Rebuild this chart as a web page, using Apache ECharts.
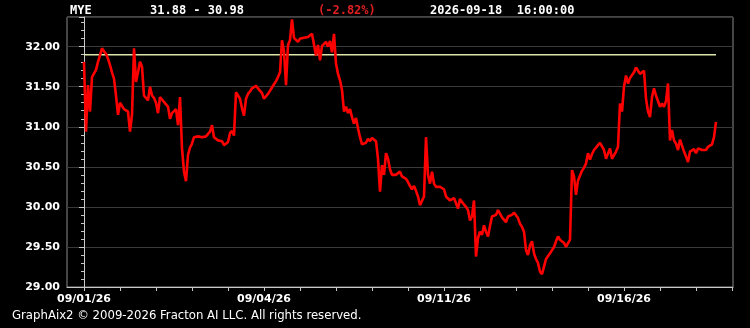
<!DOCTYPE html>
<html><head><meta charset="utf-8">
<script src="https://cdn.jsdelivr.net/npm/echarts@6/dist/echarts.min.js"></script>
<style>html,body{margin:0;padding:0;background:#000;}#c{width:750px;height:328px;}</style>
</head><body><div id="c"></div>
<script>
const symbolText = 'MYE';
const rangeText = '31.88 - 30.98';
const changeText = '(-2.82%)';
const stampText = '2026-09-18  16:00:00';
const footerText = 'GraphAix2 \u00A9 2009-2026 Fracton AI LLC. All rights reserved.';
const refLevel = 31.9;
const dateLabels = ['09/01/26', '09/04/26', '09/11/26', '09/16/26'];
const dateLabelIdx = [0, 90, 180, 270];
const yMin = 29, yMax = 32.37, yStep = 0.5;
const prices = [
31.81,30.94,31.52,31.19,31.62,31.64,31.71,31.81,31.89,31.98,
31.94,31.91,31.85,31.77,31.68,31.60,31.39,31.15,31.30,31.28,
31.22,31.23,31.19,30.94,31.15,31.98,31.56,31.68,31.81,31.75,
31.39,31.37,31.33,31.50,31.39,31.36,31.30,31.17,31.37,31.34,
31.34,31.28,31.25,31.10,31.17,31.19,31.22,31.02,31.37,30.73,
30.44,30.32,30.65,30.74,30.79,30.87,30.86,30.88,30.90,30.87,
30.87,30.88,30.90,30.94,31.02,30.87,30.87,30.83,30.85,30.82,
30.77,30.79,30.81,30.92,30.95,30.89,31.43,31.39,31.35,
31.23,31.14,31.35,31.41,31.44,31.48,31.49,31.51,31.48,31.49,
31.42,31.35,31.36,31.41,31.40,31.49,31.53,31.57,31.62,31.68,
32.08,31.94,31.52,32.02,32.08,32.34,32.11,32.12,32.06,32.10,
32.10,32.11,32.09,32.12,32.12,32.16,32.18,31.89,32.02,31.83,
32.01,32.02,32.06,32.00,32.07,31.93,32.16,31.79,31.66,31.58,
31.46,31.19,31.25,31.17,31.22,31.12,31.04,31.11,30.98,30.87,
30.78,30.76,30.80,30.85,30.82,30.86,30.85,30.82,30.60,30.19,
30.52,30.40,30.67,30.60,30.47,30.40,30.40,30.40,30.38,30.44,
30.38,30.37,30.35,30.31,30.26,30.22,30.26,30.20,30.13,30.02,
30.00,30.13,30.87,30.40,30.29,30.44,30.29,30.25,30.26,30.25,
30.24,30.22,30.13,30.15,30.08,30.09,30.11,30.09,29.98,30.10,
30.06,30.03,30.00,29.96,29.83,29.88,30.08,29.38,29.61,29.69,
29.65,29.77,29.69,29.63,29.76,29.88,29.89,29.90,29.96,29.94,
29.87,29.87,29.81,29.88,29.86,29.90,29.93,29.92,29.86,29.79,
29.75,29.69,29.46,29.40,29.52,29.57,29.42,29.35,29.30,29.19,
29.16,29.17,29.35,29.37,29.42,29.46,29.50,29.57,29.63,29.59,
29.61,29.55,29.50,29.48,29.59,
30.46,30.38,30.15,30.33,30.33,30.45,30.49,30.54,30.67,30.59,
30.66,30.71,30.74,30.77,30.80,30.82,30.71,30.60,30.58,30.73,
30.60,30.58,30.69,30.75,31.29,31.19,31.50,31.64,31.54,31.61,
31.60,31.68,31.74,31.73,31.66,31.64,31.70,31.35,31.19,31.12,
31.37,31.48,31.39,31.39,31.25,31.29,31.25,31.32,31.54,30.83,
30.96,30.83,30.79,30.71,30.84,30.85,30.69,30.63,30.56,30.69,
30.70,30.72,30.67,30.73,30.71,30.71,30.72,30.71,30.75,30.74,
30.78,30.87,31.06
];

const tickVals = [];
for (let v = 0; v <= 324; v += 18) tickVals.push(v);

const chart = echarts.init(document.getElementById('c'), null, {renderer: 'canvas'});
const axisCol = '#c8c8c8';
const labelFont = {color: '#ffffff', fontWeight: 'bold', fontSize: 11, fontFamily: 'DejaVu Sans'};
const headFont = 'bold 12px "DejaVu Sans Mono"';

chart.setOption({
  backgroundColor: '#000000',
  animation: false,
  grid: {left: 67, right: 17, top: 17, bottom: 41, show: true, borderColor: '#8a8a8a', borderWidth: 1, backgroundColor: '#000000'},
  xAxis: {
    type: 'value', min: -8.5, max: 324.5,
    axisLine: {show: true, onZero: false, lineStyle: {color: axisCol, width: 1}},
    axisTick: {show: true, customValues: tickVals, length: 4, lineStyle: {color: axisCol}},
    axisLabel: Object.assign({
      customValues: dateLabelIdx,
      formatter: function (v) { const k = dateLabelIdx.indexOf(Math.round(v)); return k >= 0 ? dateLabels[k] : ''; },
      margin: 7
    }, labelFont),
    splitLine: {show: false}
  },
  yAxis: {
    type: 'value', min: yMin, max: yMax, interval: yStep,
    axisLine: {show: true, lineStyle: {color: axisCol, width: 1}},
    axisTick: {show: true, length: 5, lineStyle: {color: axisCol}},
    minorTick: {show: true, splitNumber: 5, length: 3, lineStyle: {color: axisCol}},
    axisLabel: Object.assign({showMaxLabel: false, formatter: function (v) { return v.toFixed(2); }, margin: 7}, labelFont),
    splitLine: {show: true, lineStyle: {color: '#3a3a3a', width: 1}}
  },
  series: [
    {type: 'line', data: [[0, refLevel], [prices.length - 1, refLevel]], showSymbol: false, silent: true,
     lineStyle: {color: '#dde6a6', width: 1.5}, z: 2},
    {type: 'line', data: prices.map(function (p, i) { return [i, p]; }), showSymbol: false,
     lineStyle: {color: '#ff0000', width: 2.6}, z: 3}
  ],
  graphic: [
    {type: 'text', left: 70, top: 5, style: {text: symbolText, fill: '#ffffff', font: headFont}},
    {type: 'text', left: 150, top: 5, style: {text: rangeText, fill: '#ffffff', font: headFont}},
    {type: 'text', left: 318, top: 5, style: {text: changeText, fill: '#e02020', font: headFont}},
    {type: 'text', left: 430, top: 5, style: {text: stampText, fill: '#ffffff', font: headFont}},
    {type: 'text', left: 12, top: 309, style: {text: footerText, fill: '#ffffff', font: '13px "Liberation Sans Narrow", "DejaVu Sans Condensed", sans-serif'}}
  ]
});
</script>
</body></html>
